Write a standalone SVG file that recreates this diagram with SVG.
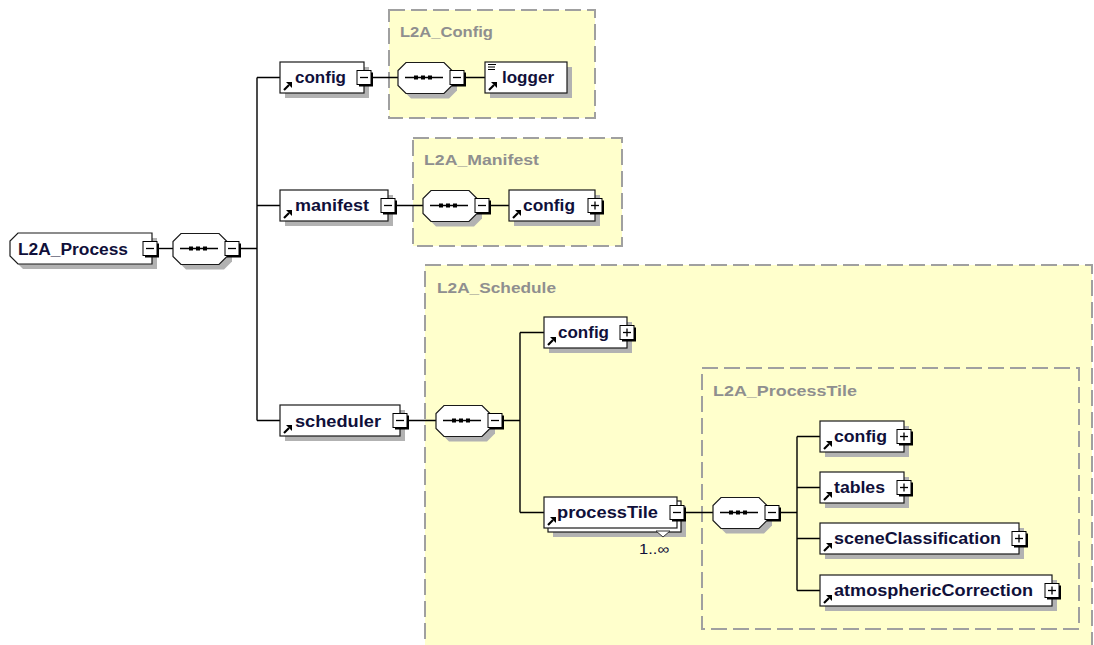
<svg xmlns="http://www.w3.org/2000/svg" xmlns:xlink="http://www.w3.org/1999/xlink" width="1094" height="645" viewBox="0 0 1094 645">
  <style>
    .grp { fill: #ffffcc; stroke: #a0a0a0; stroke-width: 2; stroke-dasharray: 16 6; }
    .gtitle { font-family: "Liberation Sans", Arial, sans-serif; font-weight: bold; font-size: 15px; fill: #8f8f8f; }
    .conn { stroke: #000; stroke-width: 1.4; fill: none; }
    .shadow { fill: #b2b2b2; }
    .box { fill: #fff; stroke: #1a1a1a; stroke-width: 1.2; }
    .label { font-family: "Liberation Sans", Arial, sans-serif; font-weight: bold; font-size: 16px; fill: #10103a; }
    .mult { font-family: "Liberation Sans", Arial, sans-serif; font-size: 14px; fill: #10103a; }
    .pm { fill: #fff; stroke: #000; stroke-width: 1; }
    .pmsh { fill: #000; }
    .pmline { stroke: #000; stroke-width: 1.3; }
    .seqline { stroke: #000; stroke-width: 1.4; }
  </style>
  <defs>
    <!-- reference arrow in the lower-left corner of an element box -->
    <g id="refArrow">
      <path d="M1,8 L6,3" stroke="#000" stroke-width="2.2" fill="none"/>
      <path d="M3,0 L9,0 L9,6 Z" fill="#000"/>
    </g>
    <!-- collapse box -->
    <g id="minus">
      <rect class="pmsh" x="-5" y="-5" width="14" height="14"/>
      <rect class="pm" x="-7" y="-7" width="14" height="14"/>
      <line class="pmline" x1="-4" y1="0" x2="4" y2="0"/>
    </g>
    <!-- expand box -->
    <g id="plus">
      <rect class="pmsh" x="-5" y="-5" width="14" height="14"/>
      <rect class="pm" x="-7" y="-7" width="14" height="14"/>
      <line class="pmline" x1="-4" y1="0" x2="4" y2="0"/>
      <line class="pmline" x1="0" y1="-4" x2="0" y2="4"/>
    </g>
    <!-- sequence compositor (octagon with dotted line) -->
    <g id="seq">
      <polygon class="shadow" points="13,-10 51,-10 59,-2 59,13 51,21 13,21 5,13 5,-2"/>
      <polygon class="box" points="8,-15 46,-15 54,-7 54,8 46,16 8,16 0,8 0,-7"/>
      <line class="seqline" x1="7" y1="0" x2="45" y2="0"/>
      <rect x="16" y="-2" width="4" height="4" fill="#000"/>
      <rect x="23" y="-2" width="4" height="4" fill="#000"/>
      <rect x="30" y="-2" width="4" height="4" fill="#000"/>
      <use xlink:href="#minus" x="59" y="0"/>
    </g>
  </defs>

  <!-- complex type containers -->
  <g id="types">
    <rect class="grp" x="389" y="10" width="206" height="108"/>
    <text class="gtitle" x="400" y="37" textLength="93" lengthAdjust="spacingAndGlyphs">L2A_Config</text>
    <rect class="grp" x="413" y="138" width="209" height="108"/>
    <text class="gtitle" x="424" y="165" textLength="115" lengthAdjust="spacingAndGlyphs">L2A_Manifest</text>
    <rect class="grp" x="425" y="265" width="667" height="400"/>
    <text class="gtitle" x="437" y="293" textLength="119" lengthAdjust="spacingAndGlyphs">L2A_Schedule</text>
    <rect class="grp" x="702" y="368" width="377" height="261"/>
    <text class="gtitle" x="713" y="396" textLength="144" lengthAdjust="spacingAndGlyphs">L2A_ProcessTile</text>
  </g>

  <!-- connectors -->
  <g id="connectors" class="conn">
    <path d="M157,248.5 H173"/>
    <path d="M239,248.5 H257 M257,77.5 V420.5 M257,77.5 H280 M257,205.5 H280 M257,420.5 H280"/>
    <path d="M371,77.5 H398 M464,77.5 H485"/>
    <path d="M395,205.5 H423 M489,205.5 H509"/>
    <path d="M407,420.5 H436 M502,420.5 H520 M520,332.5 V512.5 M520,332.5 H544 M520,512.5 H544"/>
    <path d="M684,512.5 H713 M779,512.5 H797 M797,436.5 V590.5 M797,436.5 H820 M797,487.5 H820 M797,538.5 H820 M797,590.5 H820"/>
  </g>

  <!-- root element -->
  <g id="L2A_Process">
    <polygon class="shadow" points="23,238 157,238 157,269 23,269 15,261 15,246"/>
    <polygon class="box" points="18,233 152,233 152,264 18,264 10,256 10,241"/>
    <text class="label" x="18" y="254.5" textLength="110" lengthAdjust="spacingAndGlyphs">L2A_Process</text>
    <use xlink:href="#minus" x="150" y="248.5"/>
  </g>
  <g id="seq_root"><use xlink:href="#seq" x="173" y="248.5"/></g>

  <!-- config branch -->
  <g id="config">
    <rect class="shadow" x="285" y="67" width="84" height="31"/>
    <rect class="box" x="280" y="62" width="84" height="31"/>
    <use xlink:href="#refArrow" x="283" y="82"/>
    <text class="label" x="295" y="83" textLength="51" lengthAdjust="spacingAndGlyphs">config</text>
    <use xlink:href="#minus" x="364" y="77.5"/>
  </g>
  <g id="seq_config"><use xlink:href="#seq" x="398" y="77.5"/></g>
  <g id="logger">
    <rect class="shadow" x="490" y="67" width="82" height="31"/>
    <rect class="box" x="485" y="62" width="82" height="31"/>
    <path d="M488,64.5 H496 M488,67 H495 M488,69.5 H495" stroke="#000" stroke-width="1"/>
    <use xlink:href="#refArrow" x="488" y="82"/>
    <text class="label" x="502" y="83" textLength="52" lengthAdjust="spacingAndGlyphs">logger</text>
  </g>

  <!-- manifest branch -->
  <g id="manifest">
    <rect class="shadow" x="285" y="195" width="108" height="31"/>
    <rect class="box" x="280" y="190" width="108" height="31"/>
    <use xlink:href="#refArrow" x="283" y="210"/>
    <text class="label" x="295" y="211" textLength="74" lengthAdjust="spacingAndGlyphs">manifest</text>
    <use xlink:href="#minus" x="388" y="205.5"/>
  </g>
  <g id="seq_manifest"><use xlink:href="#seq" x="423" y="205.5"/></g>
  <g id="manifest_config">
    <rect class="shadow" x="514" y="195" width="86" height="31"/>
    <rect class="box" x="509" y="190" width="86" height="31"/>
    <use xlink:href="#refArrow" x="512" y="210"/>
    <text class="label" x="523" y="211" textLength="52" lengthAdjust="spacingAndGlyphs">config</text>
    <use xlink:href="#plus" x="595" y="205.5"/>
  </g>

  <!-- scheduler branch -->
  <g id="scheduler">
    <rect class="shadow" x="285" y="410" width="120" height="31"/>
    <rect class="box" x="280" y="405" width="120" height="31"/>
    <use xlink:href="#refArrow" x="283" y="425"/>
    <text class="label" x="295" y="426.5" textLength="86" lengthAdjust="spacingAndGlyphs">scheduler</text>
    <use xlink:href="#minus" x="400" y="420.5"/>
  </g>
  <g id="seq_scheduler"><use xlink:href="#seq" x="436" y="420.5"/></g>
  <g id="schedule_config">
    <rect class="shadow" x="549" y="322" width="83" height="31"/>
    <rect class="box" x="544" y="317" width="83" height="31"/>
    <use xlink:href="#refArrow" x="547" y="337"/>
    <text class="label" x="558" y="338" textLength="51" lengthAdjust="spacingAndGlyphs">config</text>
    <use xlink:href="#plus" x="627" y="332.5"/>
  </g>
  <g id="processTile">
    <rect class="shadow" x="553" y="506" width="133" height="31"/>
    <rect class="box" x="548" y="501" width="133" height="31"/>
    <polygon points="656,531 663,537 670,531" fill="#fff" stroke="#333" stroke-width="1"/>
    <rect class="box" x="544" y="497" width="133" height="31"/>
    <use xlink:href="#refArrow" x="547" y="517"/>
    <text class="label" x="557" y="518" textLength="101" lengthAdjust="spacingAndGlyphs">processTile</text>
    <use xlink:href="#minus" x="677" y="512.5"/>
    <text class="mult" x="639" y="554" textLength="30" lengthAdjust="spacingAndGlyphs">1..∞</text>
  </g>
  <g id="seq_processTile"><use xlink:href="#seq" x="713" y="512.5"/></g>

  <!-- process tile children -->
  <g id="tile_config">
    <rect class="shadow" x="825" y="426" width="84" height="31"/>
    <rect class="box" x="820" y="421" width="84" height="31"/>
    <use xlink:href="#refArrow" x="823" y="441"/>
    <text class="label" x="834" y="442" textLength="53" lengthAdjust="spacingAndGlyphs">config</text>
    <use xlink:href="#plus" x="904" y="436.5"/>
  </g>
  <g id="tables">
    <rect class="shadow" x="825" y="477" width="84" height="31"/>
    <rect class="box" x="820" y="472" width="84" height="31"/>
    <use xlink:href="#refArrow" x="823" y="492"/>
    <text class="label" x="834" y="493" textLength="51" lengthAdjust="spacingAndGlyphs">tables</text>
    <use xlink:href="#plus" x="904" y="487.5"/>
  </g>
  <g id="sceneClassification">
    <rect class="shadow" x="825" y="528" width="199" height="31"/>
    <rect class="box" x="820" y="523" width="199" height="31"/>
    <use xlink:href="#refArrow" x="823" y="543"/>
    <text class="label" x="834" y="544" textLength="167" lengthAdjust="spacingAndGlyphs">sceneClassification</text>
    <use xlink:href="#plus" x="1019" y="538.5"/>
  </g>
  <g id="atmosphericCorrection">
    <rect class="shadow" x="825" y="580" width="232" height="31"/>
    <rect class="box" x="820" y="575" width="232" height="31"/>
    <use xlink:href="#refArrow" x="823" y="595"/>
    <text class="label" x="834" y="596" textLength="199" lengthAdjust="spacingAndGlyphs">atmosphericCorrection</text>
    <use xlink:href="#plus" x="1052" y="590.5"/>
  </g>
</svg>
